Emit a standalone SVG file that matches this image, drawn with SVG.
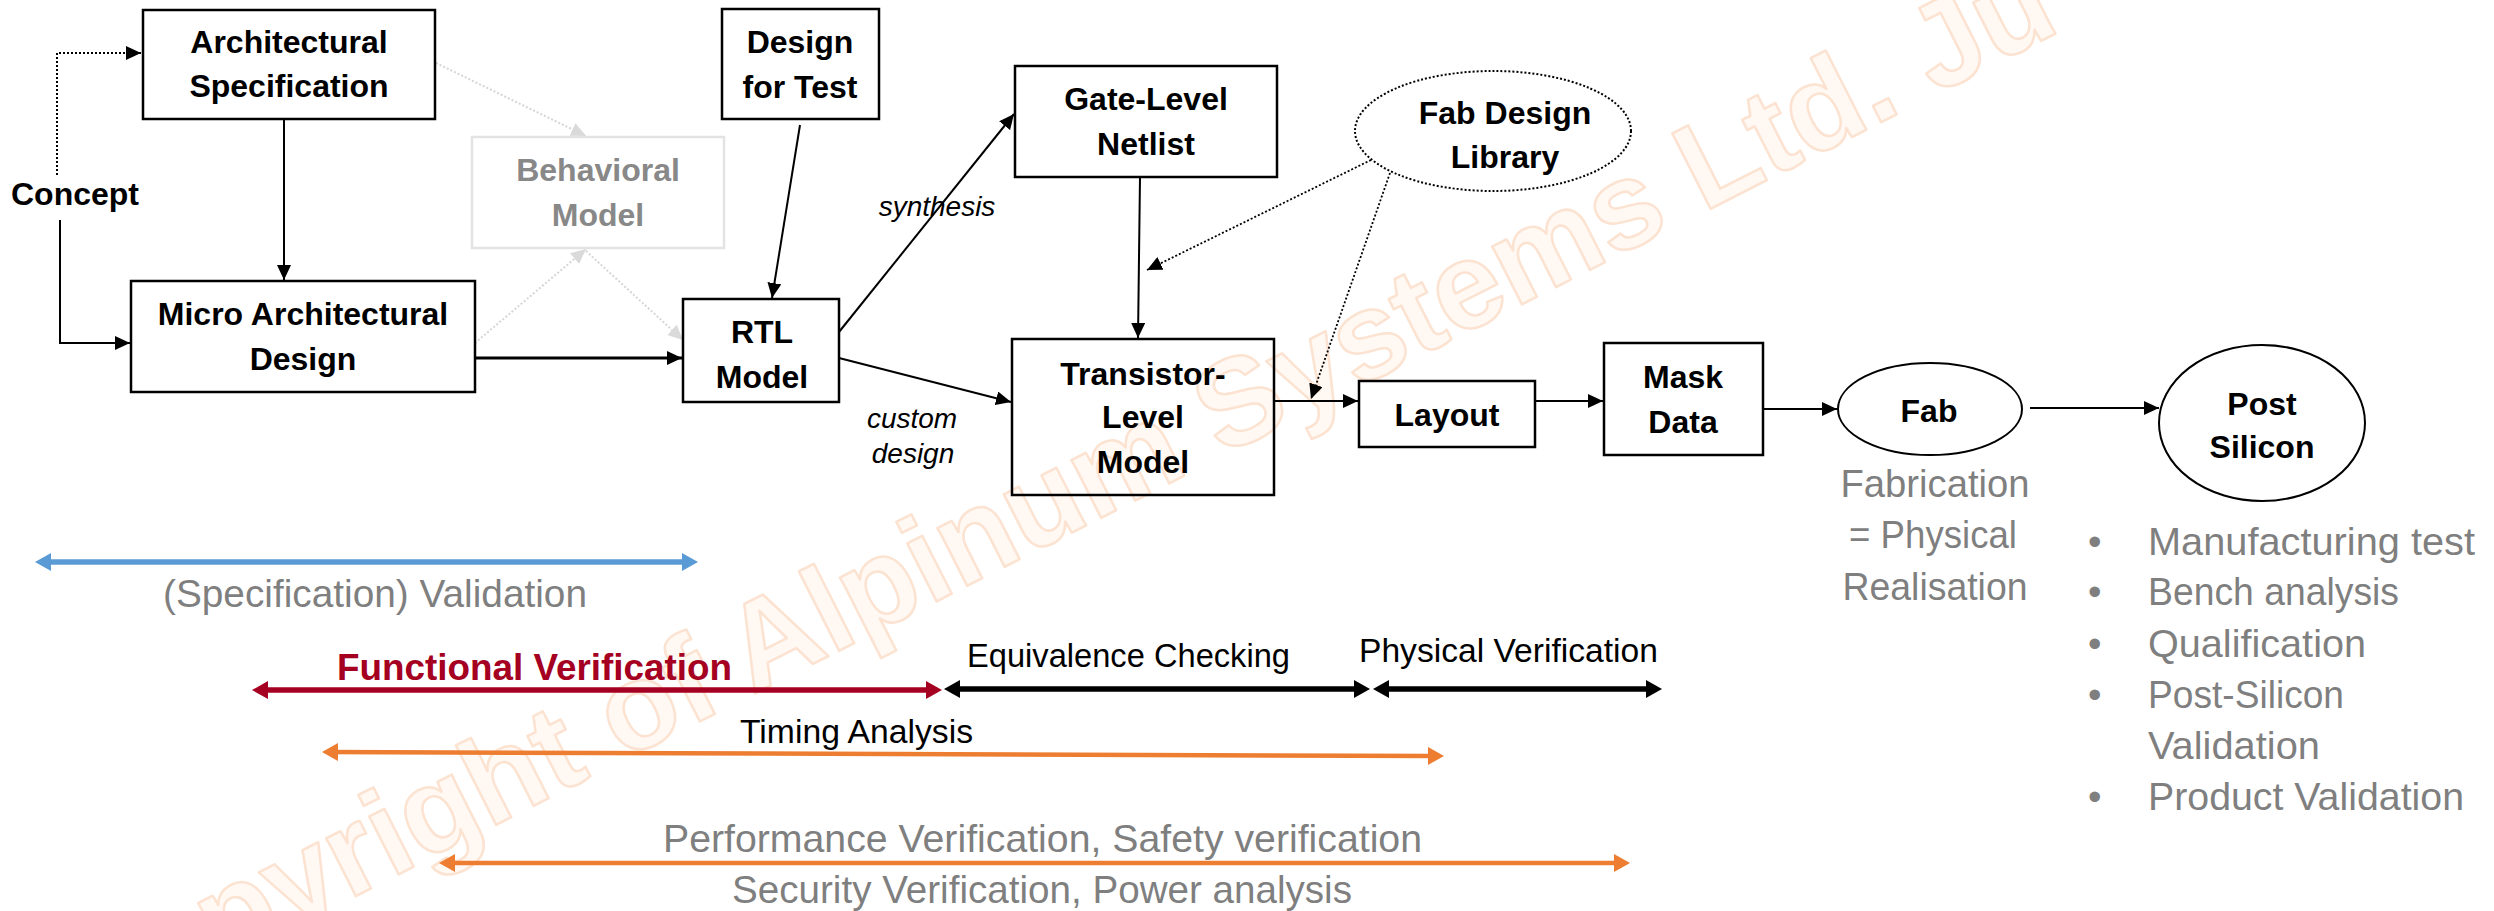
<svg xmlns="http://www.w3.org/2000/svg" width="2494" height="911" viewBox="0 0 2494 911">
<style>
.wm{font-family:"Liberation Sans",Arial,sans-serif;font-weight:bold;font-size:123px;fill:#FFF8F3;stroke:#FCE3D1;stroke-width:2.5;stroke-linejoin:round}
.box{fill:none;stroke:#000;stroke-width:2.5}
.nl{font-family:"Liberation Sans",Arial,sans-serif;font-weight:bold;font-size:32px;fill:#000;text-anchor:middle}
.it{font-family:"Liberation Sans",Arial,sans-serif;font-style:italic;font-size:28px;fill:#000;text-anchor:middle}
.gt{font-family:"Liberation Sans",Arial,sans-serif;font-size:38.5px;fill:#7F7F7F}
.bt{font-family:"Liberation Sans",Arial,sans-serif;font-size:33px;fill:#000}
.c{fill:none;stroke:#000;stroke-width:2}
.dot{fill:none;stroke:#000;stroke-width:2;stroke-dasharray:2 2}
.gd{fill:none;stroke:#D6D6D6;stroke-width:2;stroke-dasharray:2 2}
.ba{fill:none;stroke-width:5.5}
</style>
<defs>
<marker id="a" viewBox="0 0 15 14" refX="15" refY="7" markerWidth="15" markerHeight="14" markerUnits="userSpaceOnUse" orient="auto"><path d="M0,0 L15,7 L0,14 z" fill="#000"/></marker>
<marker id="ag" viewBox="0 0 15 14" refX="15" refY="7" markerWidth="15" markerHeight="14" markerUnits="userSpaceOnUse" orient="auto"><path d="M0,0 L15,7 L0,14 z" fill="#DADADA"/></marker>
<marker id="mb" viewBox="0 0 16 18" refX="10" refY="9" markerWidth="16" markerHeight="18" markerUnits="userSpaceOnUse" orient="auto-start-reverse"><path d="M0,0 L16,9 L0,18 z" fill="#5B9BD5"/></marker>
<marker id="mr" viewBox="0 0 16 18" refX="10" refY="9" markerWidth="16" markerHeight="18" markerUnits="userSpaceOnUse" orient="auto-start-reverse"><path d="M0,0 L16,9 L0,18 z" fill="#A50021"/></marker>
<marker id="mk" viewBox="0 0 16 18" refX="10" refY="9" markerWidth="16" markerHeight="18" markerUnits="userSpaceOnUse" orient="auto-start-reverse"><path d="M0,0 L16,9 L0,18 z" fill="#000"/></marker>
<marker id="mo" viewBox="0 0 16 18" refX="10" refY="9" markerWidth="16" markerHeight="18" markerUnits="userSpaceOnUse" orient="auto-start-reverse"><path d="M0,0 L16,9 L0,18 z" fill="#ED7D31"/></marker>
</defs>
<rect width="2494" height="911" fill="#fff"/>
<text class="wm" transform="translate(74,1039) rotate(-26.9)">Copyright of Alpinum Systems Ltd. Ju</text>

<g id="connectors">
<path class="dot" d="M57,175 V53 H141" marker-end="url(#a)"/>
<path class="c" d="M60,220 V343 H130" marker-end="url(#a)"/>
<path class="c" d="M284,120 V280" marker-end="url(#a)"/>
<path class="gd" d="M436,63 L586,136" marker-end="url(#ag)"/>
<path class="gd" d="M475,343 L586,249" marker-end="url(#ag)"/>
<path class="gd" d="M586,251 L683,340" marker-end="url(#ag)"/>
<path class="c" style="stroke-width:3" d="M475,358 H682" marker-end="url(#a)"/>
<path class="c" d="M800,125 L772,298" marker-end="url(#a)"/>
<path class="c" d="M839,332 L1014,114" marker-end="url(#a)"/>
<path class="c" d="M839,358 L1011,402" marker-end="url(#a)"/>
<path class="c" d="M1140,177 L1138,338" marker-end="url(#a)"/>
<path class="dot" style="stroke-width:1.8" d="M1371,160 L1147,270" marker-end="url(#a)"/>
<path class="dot" style="stroke-width:1.8" d="M1390,173 L1311,399" marker-end="url(#a)"/>
<path class="c" d="M1274,401 H1358" marker-end="url(#a)"/>
<path class="c" d="M1535,401 H1603" marker-end="url(#a)"/>
<path class="c" d="M1763,409 H1837" marker-end="url(#a)"/>
<path class="c" d="M2030,408 H2159" marker-end="url(#a)"/>
<text class="it" x="937" y="216">synthesis</text>
<text class="it" x="912" y="428">custom</text>
<text class="it" x="913" y="463">design</text>
</g>

<g id="concept"><text class="nl" x="75" y="205">Concept</text></g>
<g id="arch-spec"><rect class="box" x="143" y="10" width="292" height="109"/><text class="nl" x="289" y="53">Architectural</text><text class="nl" x="289" y="97">Specification</text></g>
<g id="design-for-test"><rect class="box" x="722" y="9" width="157" height="110"/><text class="nl" x="800" y="53">Design</text><text class="nl" x="800" y="98">for Test</text></g>
<g id="behavioral"><rect class="box" style="stroke:#E3E3E3" x="472" y="137" width="252" height="111"/><text class="nl" style="fill:#888" x="598" y="181">Behavioral</text><text class="nl" style="fill:#888" x="598" y="226">Model</text></g>
<g id="micro-arch"><rect class="box" x="131" y="281" width="344" height="111"/><text class="nl" x="303" y="325">Micro Architectural</text><text class="nl" x="303" y="370">Design</text></g>
<g id="rtl"><rect class="box" x="683" y="299" width="156" height="103"/><text class="nl" x="762" y="343">RTL</text><text class="nl" x="762" y="388">Model</text></g>
<g id="gate-level"><rect class="box" x="1015" y="66" width="262" height="111"/><text class="nl" x="1146" y="110">Gate-Level</text><text class="nl" x="1146" y="155">Netlist</text></g>
<g id="fab-lib"><ellipse cx="1493" cy="131" rx="138" ry="60" fill="none" stroke="#000" stroke-width="2" stroke-dasharray="2 2"/><text class="nl" x="1505" y="124">Fab Design</text><text class="nl" x="1505" y="168">Library</text></g>
<g id="transistor"><rect class="box" x="1012" y="339" width="262" height="156"/><text class="nl" x="1143" y="385">Transistor-</text><text class="nl" x="1143" y="428">Level</text><text class="nl" x="1143" y="473">Model</text></g>
<g id="layout"><rect class="box" x="1359" y="381" width="176" height="66"/><text class="nl" x="1447" y="426">Layout</text></g>
<g id="mask"><rect class="box" x="1604" y="343" width="159" height="112"/><text class="nl" x="1683" y="388">Mask</text><text class="nl" x="1683" y="433">Data</text></g>
<g id="fab"><ellipse cx="1930" cy="409" rx="92" ry="46" fill="none" stroke="#000" stroke-width="2"/><text class="nl" x="1929" y="422">Fab</text>
<text class="gt" x="1935" y="497" text-anchor="middle" textLength="189" lengthAdjust="spacingAndGlyphs">Fabrication</text>
<text class="gt" x="1933" y="548" text-anchor="middle" textLength="168" lengthAdjust="spacingAndGlyphs">= Physical</text>
<text class="gt" x="1935" y="600" text-anchor="middle" textLength="185" lengthAdjust="spacingAndGlyphs">Realisation</text></g>
<g id="post-silicon"><ellipse cx="2262" cy="423" rx="103" ry="78" fill="none" stroke="#000" stroke-width="2"/><text class="nl" x="2262" y="415">Post</text><text class="nl" x="2262" y="458">Silicon</text>
<text class="gt" x="2088" y="555">•</text><text class="gt" x="2148" y="555" textLength="327" lengthAdjust="spacingAndGlyphs">Manufacturing test</text>
<text class="gt" x="2088" y="605">•</text><text class="gt" x="2148" y="605" textLength="251" lengthAdjust="spacingAndGlyphs">Bench analysis</text>
<text class="gt" x="2088" y="657">•</text><text class="gt" x="2148" y="657" textLength="218" lengthAdjust="spacingAndGlyphs">Qualification</text>
<text class="gt" x="2088" y="708">•</text><text class="gt" x="2148" y="708" textLength="196" lengthAdjust="spacingAndGlyphs">Post-Silicon</text>
<text class="gt" x="2148" y="759" textLength="172" lengthAdjust="spacingAndGlyphs">Validation</text>
<text class="gt" x="2088" y="810">•</text><text class="gt" x="2148" y="810" textLength="316" lengthAdjust="spacingAndGlyphs">Product Validation</text></g>

<g id="spans">
<path class="ba" stroke="#5B9BD5" d="M41,562 H692" marker-start="url(#mb)" marker-end="url(#mb)"/>
<text class="gt" x="163" y="607" textLength="424" lengthAdjust="spacingAndGlyphs">(Specification) Validation</text>
<path class="ba" stroke="#A50021" d="M258,690 H936" marker-start="url(#mr)" marker-end="url(#mr)"/>
<text x="337" y="680" font-family="Liberation Sans, Arial, sans-serif" font-weight="bold" font-size="36.5" fill="#A50021" textLength="395" lengthAdjust="spacingAndGlyphs">Functional Verification</text>
<path class="ba" stroke="#000" d="M950,689 H1364" marker-start="url(#mk)" marker-end="url(#mk)"/>
<path class="ba" stroke="#000" d="M1379,689 H1656" marker-start="url(#mk)" marker-end="url(#mk)"/>
<text class="bt" x="967" y="667" textLength="323" lengthAdjust="spacingAndGlyphs">Equivalence Checking</text>
<text class="bt" x="1359" y="662" textLength="299" lengthAdjust="spacingAndGlyphs">Physical Verification</text>
<path class="ba" style="stroke-width:4.5" stroke="#ED7D31" d="M328,752 L1438,756" marker-start="url(#mo)" marker-end="url(#mo)"/>
<text class="bt" x="740" y="743" textLength="233" lengthAdjust="spacingAndGlyphs">Timing Analysis</text>
<path class="ba" style="stroke-width:4.5" stroke="#ED7D31" d="M445,863 H1624" marker-start="url(#mo)" marker-end="url(#mo)"/>
<text class="gt" x="663" y="852" textLength="759" lengthAdjust="spacingAndGlyphs">Performance Verification, Safety verification</text>
<text class="gt" x="732" y="903" textLength="620" lengthAdjust="spacingAndGlyphs">Security Verification, Power analysis</text>
</g>
</svg>
